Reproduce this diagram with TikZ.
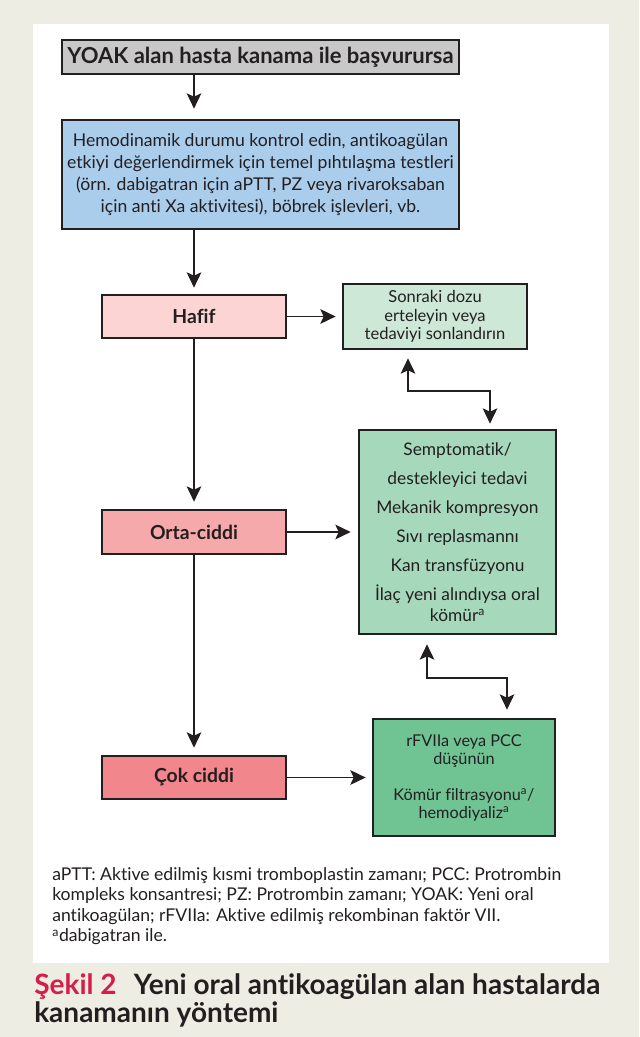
\documentclass[tikz,border=0pt]{standalone}
\usepackage{fontspec}
\setmainfont{Lato}[Ligatures=NoCommon]
\usetikzlibrary{arrows.meta}

\definecolor{fondo}{RGB}{238,237,227}
\definecolor{tinta}{HTML}{231F20}
\definecolor{gris}{RGB}{200,200,200}
\definecolor{azul}{RGB}{170,205,236}
\definecolor{rosa1}{RGB}{251,212,211}
\definecolor{rosa2}{RGB}{246,169,171}
\definecolor{rosa3}{RGB}{241,134,140}
\definecolor{verde1}{RGB}{206,232,216}
\definecolor{verde2}{RGB}{166,216,188}
\definecolor{verde3}{RGB}{112,196,148}
\definecolor{rojo}{RGB}{214,30,72}

\begin{document}
\begin{tikzpicture}[x=0.75pt,y=-0.75pt]
    \tikzstyle{box}=[rectangle,draw=tinta,line width=2pt,text=tinta,align=center,inner sep=0pt]
    \tikzstyle{level}=[box,minimum width=138pt,font=\fontsize{14.5}{16}\selectfont\bfseries]
    \tikzstyle{arrow}=[-{Stealth[length=11.5pt,width=11pt,inset=2.5pt]},draw=tinta,line width=1.2pt]
    \tikzstyle{twoway}=[{Stealth[length=11.5pt,width=11pt,inset=2.5pt]}-{Stealth[length=11.5pt,width=11pt,inset=2.5pt]},draw=tinta,line width=1.2pt]

    \fill[fondo] (0,0) rectangle (639,1037);
    \fill[white] (33,24) rectangle (609,963);
    \useasboundingbox (0,0) rectangle (639,1037);

    \node[box,fill=gris,minimum width=297.75pt,minimum height=25.5pt,
          font=\fontsize{16.5}{18}\selectfont\bfseries] (yoak) at (260.5,57)
          {YOAK alan hasta kanama ile başvurursa};
    \node[box,fill=azul,minimum width=297.75pt,minimum height=81.75pt,
          font=\fontsize{13.2}{16.5}\selectfont] (kontrol) at (260.5,174.5)
          {Hemodinamik durumu kontrol edin, antikoagülan\\
           etkiyi değerlendirmek için temel pıhtılaşma testleri\\
           (örn. dabigatran için aPTT, PZ veya rivaroksaban\\
           için anti Xa aktivitesi), böbrek işlevleri, vb.};

    \node[level,fill=rosa1,minimum height=32.25pt] (hafif) at (194,316.5) {Hafif};
    \node[level,fill=rosa2,minimum height=33pt] (orta) at (194,532) {Orta-ciddi};
    \node[level,fill=rosa3,minimum height=32.25pt] (cok) at (194,777.5) {Çok ciddi};

    \node[box,fill=verde1,minimum width=138pt,minimum height=48.75pt,
          font=\fontsize{12.4}{13.9}\selectfont] (sonraki) at (435,316.5)
          {Sonraki dozu\\erteleyin veya\\tedaviyi sonlandırın};
    \node[box,fill=verde2,minimum width=147.75pt,minimum height=153pt,
          font=\fontsize{13}{15.75}\selectfont] (semp) at (457.5,532)
          {Semptomatik/\\[6pt]
           destekleyici tedavi\\[6pt]
           Mekanik kompresyon\\[6pt]
           Sıvı replasmannı\\[6pt]
           Kan transfüzyonu\\[6pt]
           İlaç yeni alındıysa oral\\
           kömür\textsuperscript{a}};
    \node[box,fill=verde3,minimum width=136.5pt,minimum height=87.75pt,
          font=\fontsize{12.2}{13.5}\selectfont] (rfvii) at (464,777.5)
          {rFVIIa veya PCC\\düşünün\\[13.5pt]
           Kömür filtrasyonu\textsuperscript{a}/\\hemodiyaliz\textsuperscript{a}};

    % ana akis
    \draw[arrow,shorten >=7.5pt] (yoak.south -| hafif) -- (kontrol.north -| hafif);
    \draw[arrow,shorten >=4.5pt] (kontrol.south -| hafif) -- (hafif.north);
    \draw[arrow,shorten >=5.25pt] (hafif.south) -- (orta.north);
    \draw[arrow,shorten >=5.25pt] (orta.south) -- (cok.north);

    % sag taraf
    \draw[arrow,shorten >=4.5pt] (hafif.east) -- (sonraki.west |- hafif.east);
    \draw[arrow,shorten >=5.25pt] (orta.east) -- (semp.west |- orta.east);
    \draw[arrow,shorten >=4.5pt] (cok.east) -- (rfvii.west |- cok.east);

    \coordinate (k1) at (408,391);
    \coordinate (k2) at (490,391);
    \draw[twoway,shorten <=6pt,shorten >=3.75pt] (sonraki.south -| k1) -- (k1) -- (k2) -- (semp.north -| k2);
    \coordinate (k3) at (427,678);
    \coordinate (k4) at (507,678);
    \draw[twoway,shorten <=6.75pt,shorten >=6pt] (semp.south -| k3) -- (k3) -- (k4) -- (rfvii.north -| k4);

    \node[anchor=north west,align=left,text=tinta,inner sep=0pt,
          font=\fontsize{13.2}{15.4}\selectfont] (dipnot) at (52,867)
          {aPTT: Aktive edilmiş kısmi tromboplastin zamanı; PCC: Protrombin\\
           kompleks konsantresi; PZ: Protrombin zamanı; YOAK: Yeni oral\\
           antikoagülan; rFVIIa: Aktive edilmiş rekombinan faktör VII.\\
           \textsuperscript{a}dabigatran ile.};

    \node[anchor=north west,align=left,text=tinta,inner sep=0pt,
          font=\fontsize{21}{21}\selectfont\bfseries] (baslik) at (34,973)
          {\textcolor{rojo}{Şekil 2}\hspace{13pt}Yeni oral antikoagülan alan hastalarda\\
           kanamanın yöntemi};
\end{tikzpicture}
\end{document}
